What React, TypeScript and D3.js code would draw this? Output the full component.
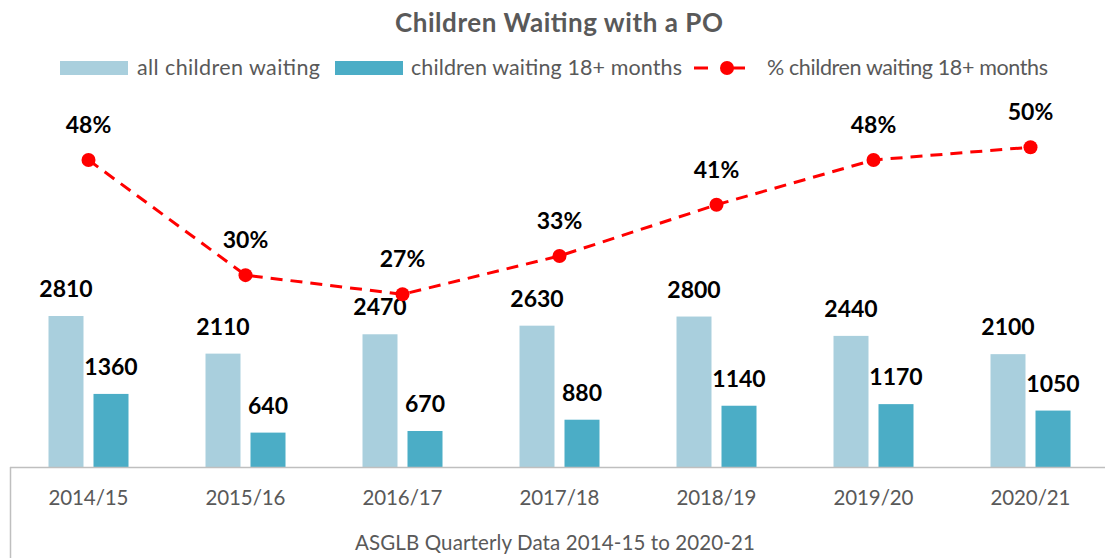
import React from "react";
import * as d3 from "d3";

const categories = ["2014/15", "2015/16", "2016/17", "2017/18", "2018/19", "2019/20", "2020/21"];
const allWaiting = [2810, 2110, 2470, 2630, 2800, 2440, 2100];
const waiting18 = [1360, 640, 670, 880, 1140, 1170, 1050];
const pct18 = [48, 30, 27, 33, 41, 48, 50];

const W = 1105;
const H = 558;
const FONT = "Lato, 'Open Sans', sans-serif";
const LIGHT = "#A9CFDD";
const DARK = "#4BADC6";
const RED = "#FF0000";
const GRAY = "#595959";

export default function App() {
  const baseY = 467;
  const x = d3.scaleBand<string>().domain(categories).range([10, 1109]).paddingInner(0).paddingOuter(0);
  const y = d3.scaleLinear().domain([0, 2810]).range([baseY, 316]);
  const yP = d3.scaleLinear().domain([0, 48]).range([baseY, 160]);
  const barW = 35;
  const gap = 10;
  const line = d3
    .line<number>()
    .x((_, i) => x(categories[i])! + x.bandwidth() / 2)
    .y((d) => yP(d));

  return (
    <svg width={W} height={H} style={{ position: "absolute", left: 0, top: 0, background: "#fff" }}>
      <text x={395} y={32} textLength={328} lengthAdjust="spacing" fontFamily={FONT} fontWeight="bold" fontSize={26} fill={GRAY}>
        Children Waiting with a PO
      </text>
      {/* legend */}
      <g fontFamily={FONT} fontSize={21.5} fill={GRAY}>
        <rect x={60} y={61} width={68} height={14} fill={LIGHT} />
        <text x={137} y={75} textLength={183} lengthAdjust="spacing">all children waiting</text>
        <rect x={335} y={61} width={68} height={14} fill={DARK} />
        <text x={411} y={75} textLength={271} lengthAdjust="spacing">children waiting 18+ months</text>
        <line x1={694} x2={759} y1={68} y2={68} stroke={RED} strokeWidth={3} strokeDasharray="14,23" />
        <circle cx={727} cy={68} r={7} fill={RED} />
        <text x={767} y={75} textLength={281} lengthAdjust="spacing">% children waiting 18+ months</text>
      </g>
      {/* bars */}
      {categories.map((c, i) => {
        const cx = x(c)! + x.bandwidth() / 2;
        const x1 = cx - gap / 2 - barW;
        const x2 = cx + gap / 2;
        return (
          <g key={c}>
            <rect x={x1} y={y(allWaiting[i])} width={barW} height={baseY - y(allWaiting[i])} fill={LIGHT} />
            <rect x={x2} y={y(waiting18[i])} width={barW} height={baseY - y(waiting18[i])} fill={DARK} />
            <text x={x1 + barW / 2} y={y(allWaiting[i]) - 19} textAnchor="middle" fontFamily={FONT} fontWeight="bold" fontSize={23} fill="#000">
              {allWaiting[i]}
            </text>
            <text x={x2 + barW / 2} y={y(waiting18[i]) - 19} textAnchor="middle" fontFamily={FONT} fontWeight="bold" fontSize={23} fill="#000">
              {waiting18[i]}
            </text>
          </g>
        );
      })}
      {/* axis */}
      <line x1={10} x2={W} y1={baseY + 0.5} y2={baseY + 0.5} stroke="#BFBFBF" strokeWidth={1.5} />
      <line x1={10.5} x2={10.5} y1={baseY} y2={H} stroke="#BFBFBF" strokeWidth={1.5} />
      {categories.map((c) => (
        <text key={c} x={x(c)! + x.bandwidth() / 2} y={505} textAnchor="middle" textLength={80} lengthAdjust="spacing" fontFamily={FONT} fontSize={20.5} fill={GRAY}>
          {c}
        </text>
      ))}
      <text x={355} y={550} textLength={400} lengthAdjust="spacing" fontFamily={FONT} fontSize={20.5} fill={GRAY}>
        ASGLB Quarterly Data 2014-15 to 2020-21
      </text>
      {/* line */}
      <path d={line(pct18)!} fill="none" stroke={RED} strokeWidth={3} strokeDasharray="12,8" />
      {pct18.map((p, i) => {
        const cx = x(categories[i])! + x.bandwidth() / 2;
        return (
          <g key={i}>
            <circle cx={cx} cy={yP(p)} r={7} fill={RED} />
            <text x={cx} y={yP(p) - 27} textAnchor="middle" fontFamily={FONT} fontWeight="bold" fontSize={23} fill="#000">
              {p}%
            </text>
          </g>
        );
      })}
    </svg>
  );
}
